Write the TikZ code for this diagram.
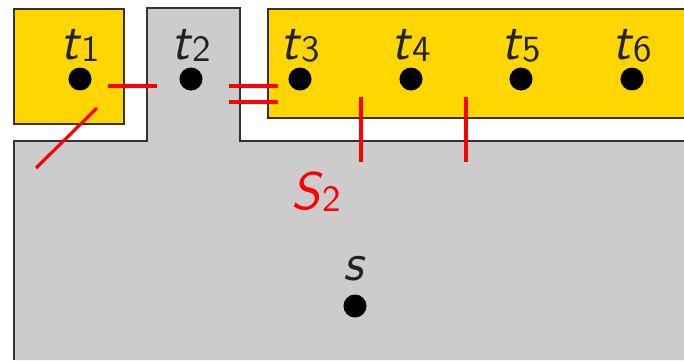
\documentclass[tikz,border=0pt]{standalone}
\usepackage{xcolor}
\definecolor{cutred}{RGB}{255,0,0}
\definecolor{regiongold}{RGB}{255,214,0}
\definecolor{regiongray}{RGB}{204,204,204}
\definecolor{labelgray}{RGB}{34,34,34}
\usepackage{tikz}
\usetikzlibrary{positioning}
\newcommand{\termlab}[2]{\textit{#1}\raisebox{-0.8pt}{\fontsize{10.5}{12}\selectfont #2}}

\begin{document}
\begin{tikzpicture}[x=0.01cm,y=-0.01cm,font=\sffamily\fontsize{15}{18}\selectfont,
  dot/.style={circle,fill=black,inner sep=0pt,minimum size=0.23cm},
  lbl/.style={labelgray,anchor=base,inner sep=0pt},
  cut/.style={cutred,line width=0.9pt}]
  \useasboundingbox (0,0) rectangle (684,360);
  % regions
  \fill[regiongray] (14,360) -- (14,141) -- (147,141) -- (147,8) -- (240,8) -- (240,141) -- (684,141) -- (684,360) -- cycle;
  \draw[black!80] (14,360) -- (14,141) -- (147,141) -- (147,8) -- (240,8) -- (240,141) -- (684,141);
  \draw[black!80,fill=regiongold] (14,9) rectangle (124,124);
  \fill[regiongold] (268,9) rectangle (684,118);
  \draw[black!80] (684,9) -- (268,9) -- (268,118) -- (684,118);
  % terminals
  \node[dot] (t1) at (80,79) {};
  \node[dot] (t2) at (191,79) {};
  \node[dot] (t3) at (300,79) {};
  \node[dot] (t4) at (411,79) {};
  \node[dot] (t5) at (521,79) {};
  \node[dot] (t6) at (632,79) {};
  \node[dot] (s) at (355,306) {};
  \node[lbl] (t1lbl) at (80,59) {\termlab{t}{1}};
  \node[lbl] (t2lbl) at (191,59) {\termlab{t}{2}};
  \node[lbl] (t3lbl) at (300,59) {\termlab{t}{3}};
  \node[lbl] (t4lbl) at (411,59) {\termlab{t}{4}};
  \node[lbl] (t5lbl) at (521,59) {\termlab{t}{5}};
  \node[lbl] (t6lbl) at (632,59) {\termlab{t}{6}};
  \node[lbl] (slbl) at (355,280) {\textit{s}};
  \node[lbl,cutred] (cutlbl) at (316,209) {\termlab{S}{2}};
  % cuts
  \draw[cut] (108,86) -- (157,86);
  \draw[cut] (229,86) -- (278,86);
  \draw[cut] (229,102) -- (278,102);
  \draw[cut] (97,108) -- (36,168);
  \draw[cut] (361,97) -- (361,162);
  \draw[cut] (466,97) -- (466,162);
\end{tikzpicture}
\end{document}
